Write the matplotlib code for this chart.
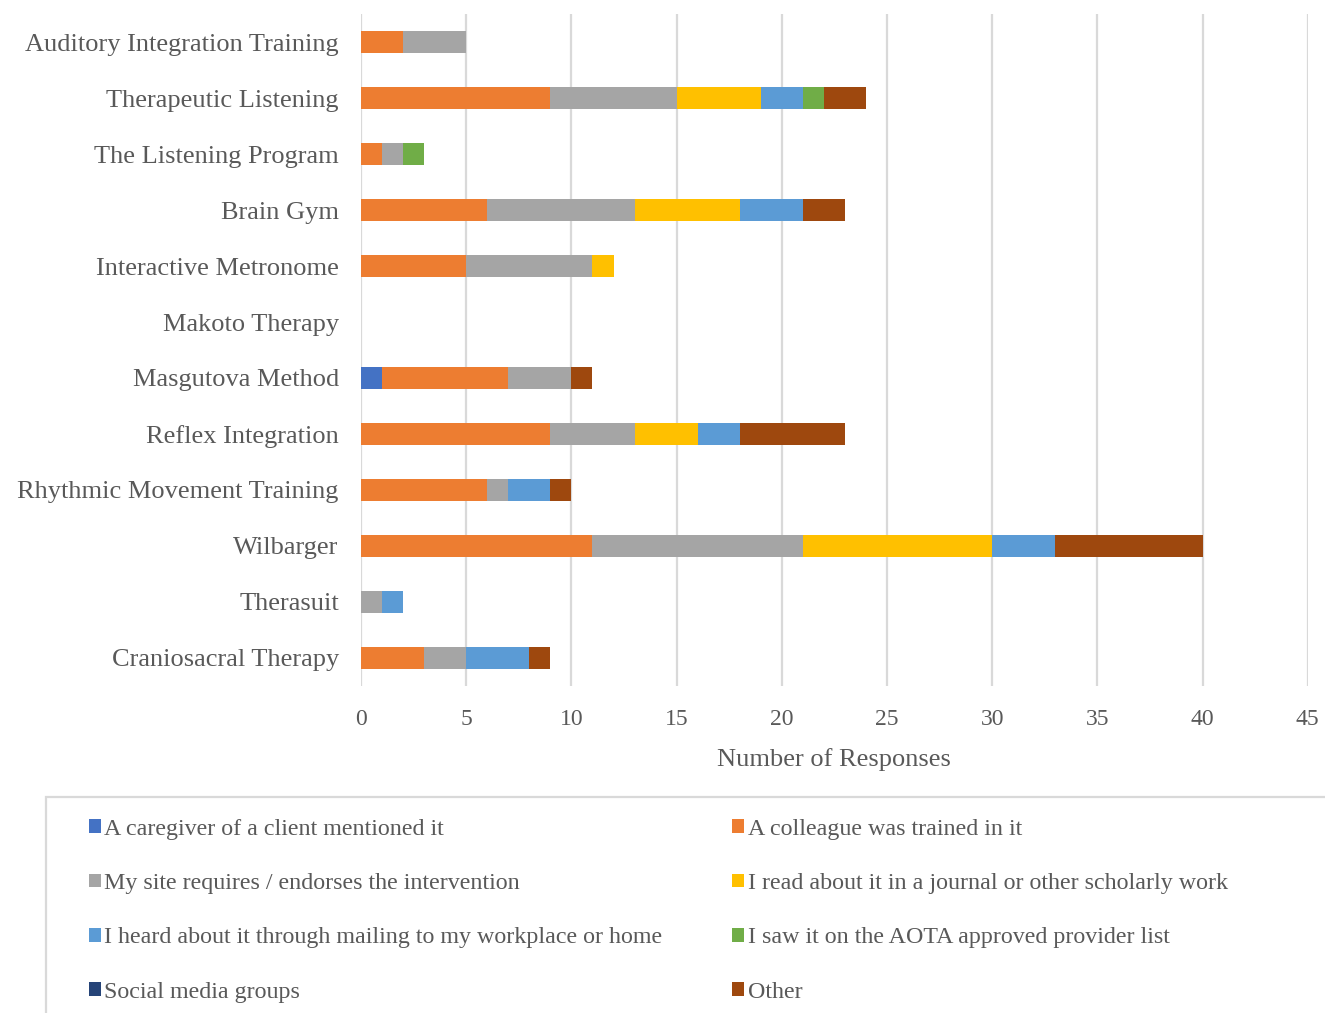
import numpy as np
import matplotlib
matplotlib.use("Agg")
from matplotlib import pyplot as plt
from matplotlib.patches import Rectangle

plt.rcParams['font.family'] = ['Liberation Serif', 'DejaVu Serif']

# categories listed top to bottom
interventions = ['Auditory Integration Training', 'Therapeutic Listening',
                 'The Listening Program', 'Brain Gym', 'Interactive Metronome',
                 'Makoto Therapy', 'Masgutova Method', 'Reflex Integration',
                 'Rhythmic Movement Training', 'Wilbarger', 'Therasuit',
                 'Craniosacral Therapy']

sources = ['A caregiver of a client mentioned it',
           'A colleague was trained in it',
           'My site requires / endorses the intervention',
           'I read about it in a journal or other scholarly work',
           'I heard about it through mailing to my workplace or home',
           'I saw it on the AOTA approved provider list',
           'Social media groups',
           'Other']

caregiver = [0, 0, 0, 0, 0, 0, 1, 0, 0, 0, 0, 0]
colleague = [2, 9, 1, 6, 5, 0, 6, 9, 6, 11, 0, 3]
site      = [3, 6, 1, 7, 6, 0, 3, 4, 1, 10, 1, 2]
journal   = [0, 4, 0, 5, 1, 0, 0, 3, 0, 9, 0, 0]
mailing   = [0, 2, 0, 3, 0, 0, 0, 2, 2, 3, 1, 3]
aota      = [0, 1, 1, 0, 0, 0, 0, 0, 0, 0, 0, 0]
social    = [0, 0, 0, 0, 0, 0, 0, 0, 0, 0, 0, 0]
other     = [0, 2, 0, 2, 0, 0, 1, 5, 1, 7, 0, 1]

series = [caregiver, colleague, site, journal, mailing, aota, social, other]
colors = ['#4472c4', '#ed7d31', '#a5a5a5', '#ffc000',
          '#5b9bd5', '#70ad47', '#264478', '#9e480e']

txt = '#595959'

fig = plt.figure(figsize=(13.25, 10.13), dpi=100)
ax = fig.add_axes([0.2725, 0.323, 0.7145, 0.663])

y = np.arange(len(interventions))
left = np.zeros(len(interventions))
handles = []
for vals, col, name in zip(series, colors, sources):
    vals = np.array(vals, dtype=float)
    h = ax.barh(y, vals, left=left, height=0.4, color=col, label=name,
                linewidth=0)
    handles.append(h)
    left += vals

ax.set_ylim(len(interventions) - 0.5, -0.5)
ax.set_xlim(0, 45)
ax.set_xticks(range(0, 46, 5))
ax.set_yticks(y)
ax.set_yticklabels(interventions, fontsize=19, color=txt)
ax.tick_params(axis='x', labelsize=17, colors=txt, length=0, pad=17)
ax.tick_params(axis='y', length=0, pad=16)
ax.grid(axis='x', color='#d9d9d9', linewidth=1.6)
ax.set_axisbelow(True)
for s in ax.spines.values():
    s.set_visible(False)
ax.set_xlabel('Number of Responses', fontsize=19, color=txt, labelpad=13)

# legend box (cut off at the bottom/right like the source)
fig.patches.append(Rectangle((46 / 1325, -0.01), 1.0, 1 - 797 / 1013 + 0.01,
                             transform=fig.transFigure, fill=False,
                             edgecolor='#d9d9d9', linewidth=1.6))

order = [0, 2, 4, 6, 1, 3, 5, 7]
leg = fig.legend([handles[i] for i in order], [sources[i] for i in order],
                 loc='upper left', bbox_to_anchor=(67 / 1325, 1 - 797 / 1013),
                 ncol=2, frameon=False, fontsize=17.3, labelcolor=txt,
                 handlelength=0.5, handleheight=0.5, handletextpad=0.15,
                 labelspacing=1.39, columnspacing=2.9)

fig.savefig('out.png', dpi=100)
